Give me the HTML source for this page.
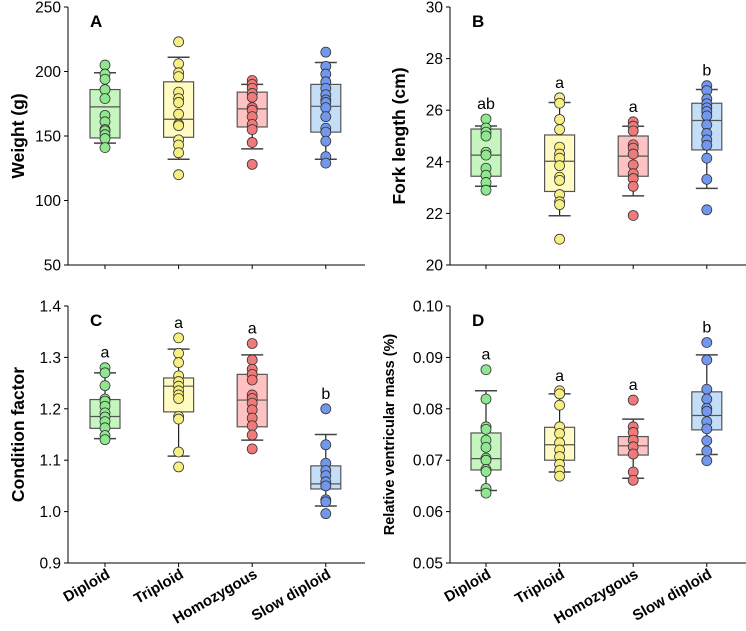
<!DOCTYPE html>
<html><head><meta charset="utf-8"><style>
html,body{margin:0;padding:0;background:#fff;}
svg{display:block;font-family:"Liberation Sans",Arial,sans-serif;}
</style></head><body>
<svg id="chart" width="746" height="631" viewBox="0 0 746 631" xmlns="http://www.w3.org/2000/svg"></svg>
<script>
const categories = ["Diploid","Triploid","Homozygous","Slow diploid"];
// Panel A: Weight
const weightBoxes = [[144.5,148.5,172.6,186,199],[132,149,163,192,211],[140,157,171,184,190],[132,153,173,190,207]];
const weightPoints = [
 [205,198,194,186,186,179,166,161,155,154,151,148,141],
 [223,206,199,196,184,179,176,167,159,158,147,143,137,120],
 [193,190,187,183,180,172,170,165,159,155,145,128],
 [215,204,198,192,187,182,178,176,172,165,156,153,146,134,129]];
const weightLetters = ["","","",""];
const weightTicks = [50,100,150,200,250];
// Panel B: Fork length
const forkBoxes = [[23.05,23.44,24.26,25.27,25.39],[21.91,22.85,24.02,25.04,26.3],[22.68,23.44,24.22,25.0,25.38],[22.97,24.46,25.6,26.27,26.8]];
const forkPoints = [
 [25.66,25.31,25.15,25.0,24.37,24.26,23.75,23.48,23.2,22.9],
 [26.48,26.27,25.64,25.25,24.57,24.3,24.14,23.85,23.4,23.28,22.73,22.45,22.34,21.0],
 [25.55,25.38,25.2,24.66,24.53,24.3,23.88,23.54,23.35,23.05,21.92],
 [26.95,26.76,26.44,26.25,26.09,25.95,25.78,25.43,25.1,24.85,24.64,24.14,23.32,22.14]];
const forkLetters = ["ab","a","a","b"];
const forkTicks = [20,22,24,26,28,30];
// Panel C: Condition factor
const condBoxes = [[1.142,1.162,1.185,1.218,1.270],[1.108,1.194,1.244,1.260,1.316],[1.139,1.165,1.217,1.267,1.305],[1.011,1.044,1.054,1.089,1.150]];
const condPoints = [
 [1.280,1.270,1.245,1.219,1.215,1.205,1.192,1.184,1.175,1.163,1.148,1.140],
 [1.338,1.308,1.290,1.264,1.253,1.244,1.235,1.227,1.220,1.185,1.180,1.116,1.087],
 [1.327,1.295,1.277,1.267,1.256,1.227,1.220,1.211,1.198,1.182,1.167,1.149,1.122],
 [1.200,1.130,1.094,1.080,1.070,1.058,1.050,1.023,1.019,0.996]];
const condLetters = ["a","a","a","b"];
const condTicks = [0.9,1.0,1.1,1.2,1.3,1.4];
// Panel D: Relative ventricular mass
const rvmBoxes = [[0.0641,0.0681,0.0703,0.0753,0.0835],[0.0677,0.0700,0.0730,0.0764,0.0829],[0.0665,0.0710,0.0728,0.0746,0.0780],[0.0711,0.0759,0.0787,0.0833,0.0905]];
const rvmPoints = [
 [0.0876,0.0819,0.0765,0.0760,0.0739,0.0725,0.0704,0.0700,0.0682,0.0678,0.0645,0.0636],
 [0.0835,0.0829,0.0807,0.0765,0.0752,0.0734,0.0720,0.0707,0.0692,0.0680,0.0669],
 [0.0817,0.0765,0.0754,0.0739,0.0726,0.0712,0.0677,0.0661],
 [0.0929,0.0895,0.0838,0.0819,0.0801,0.0795,0.0775,0.0761,0.0738,0.0718,0.0699]];
const rvmLetters = ["a","a","a","b"];
const rvmTicks = [0.05,0.06,0.07,0.08,0.09,0.10];

const boxFill = ["#c6f5c0","#fffbc2","#ffc2c2","#c4def8"];
const ptFill = ["#8fe88f","#f7ef82","#f07a7a","#7298ee"];
const NS="http://www.w3.org/2000/svg";
const svg=document.getElementById('chart');
function mk(tag,attrs,parent){const e=document.createElementNS(NS,tag);for(const k in attrs)e.setAttribute(k,attrs[k]);(parent||svg).appendChild(e);return e;}

function panel(o){
  const g=mk('g',{});
  
  
  const y=v=>o.yBot-(v-o.min)/(o.max-o.min)*(o.yBot-o.yTop);
  const x=i=>o.x0+o.x1off+i*73.6;
  const ya=mk('line',{x1:o.x0,y1:o.yTop,x2:o.x0,y2:o.yBot,stroke:'#000','stroke-width':1},g);
  
  
  const xa=mk('line',{x1:o.x0,y1:o.yBot,x2:o.xEnd,y2:o.yBot,stroke:'#000','stroke-width':1},g);
  
  
  o.ticks.forEach(t=>{
    mk('line',{x1:o.x0-4,y1:y(t),x2:o.x0,y2:y(t),stroke:'#000'},g);
    const tl=mk('text',{x:o.x0-7,y:y(t)+5.5,'text-anchor':'end','font-size':15.5},g);
    tl.textContent=o.fmt(t);
    
    
  });
  const yt=mk('text',{transform:`translate(${o.titleX},${(o.yTop+o.yBot)/2}) rotate(-90)`,'text-anchor':'middle','font-size':o.titleSize,'font-weight':'bold'},g);
  yt.textContent=o.title;
  
  
  const pl=mk('text',{x:o.x0+22,y:o.yTop+20,'font-size':17,'font-weight':'bold'},g);
  pl.textContent=o.label;
  
  
  categories.forEach((c,i)=>{
    const cx=x(i);
    mk('line',{x1:cx,y1:o.yBot,x2:cx,y2:o.yBot+4,stroke:'#000'},g);
    if(o.showCats){
      const ct=mk('text',{transform:`translate(${cx+6},${o.yBot+14}) rotate(-30)`,'text-anchor':'end','font-size':15,'font-weight':'bold'},g);
      ct.textContent=c;
      
      
    }
    const b=o.boxes[i];
    const bg=mk('g',{},g);
    
    
    mk('line',{x1:cx,y1:y(b[0]),x2:cx,y2:y(b[4]),stroke:'#222','stroke-width':1.2},bg);
    mk('line',{x1:cx-11,y1:y(b[0]),x2:cx+11,y2:y(b[0]),stroke:'#444','stroke-width':1.5},bg);
    mk('line',{x1:cx-11,y1:y(b[4]),x2:cx+11,y2:y(b[4]),stroke:'#444','stroke-width':1.5},bg);
    mk('rect',{x:cx-15,y:y(b[3]),width:30,height:y(b[1])-y(b[3]),fill:boxFill[i],stroke:'#555','stroke-width':1.2},bg);
    mk('line',{x1:cx-15,y1:y(b[2]),x2:cx+15,y2:y(b[2]),stroke:'#555','stroke-width':1.2},bg);
    o.points[i].forEach(v=>{
      const p=mk('circle',{cx:cx,cy:y(v),r:5,fill:ptFill[i],stroke:'#333','stroke-width':0.8},bg);
      
      
    });
    if(o.letters[i]){
      const top=Math.max(b[4],...o.points[i]);
      const lt=mk('text',{x:cx,y:y(top)-10,'text-anchor':'middle','font-size':16},g);
      lt.textContent=o.letters[i];
      
      
    }
  });
}
panel({name:'panel-a-weight',x0:68,x1off:37,xEnd:365,yTop:7,yBot:265,min:50,max:250,ticks:weightTicks,fmt:t=>String(t),title:'Weight (g)',titleX:24,titleSize:17.5,label:'A',boxes:weightBoxes,points:weightPoints,letters:weightLetters,showCats:false});
panel({name:'panel-b-fork-length',x0:450,x1off:36,xEnd:746,yTop:7,yBot:265,min:20,max:30,ticks:forkTicks,fmt:t=>String(t),title:'Fork length (cm)',titleX:405,titleSize:17.5,label:'B',boxes:forkBoxes,points:forkPoints,letters:forkLetters,showCats:false});
panel({name:'panel-c-condition-factor',x0:68,x1off:37,xEnd:365,yTop:306,yBot:563,min:0.9,max:1.4,ticks:condTicks,fmt:t=>t.toFixed(1),title:'Condition factor',titleX:24,titleSize:17.5,label:'C',boxes:condBoxes,points:condPoints,letters:condLetters,showCats:true});
panel({name:'panel-d-ventricular-mass',x0:450,x1off:36,xEnd:746,yTop:306,yBot:563,min:0.05,max:0.10,ticks:rvmTicks,fmt:t=>t.toFixed(2),title:'Relative ventricular mass (%)',titleX:394,titleSize:14.5,label:'D',boxes:rvmBoxes,points:rvmPoints,letters:rvmLetters,showCats:true});
</script>
</body></html>
